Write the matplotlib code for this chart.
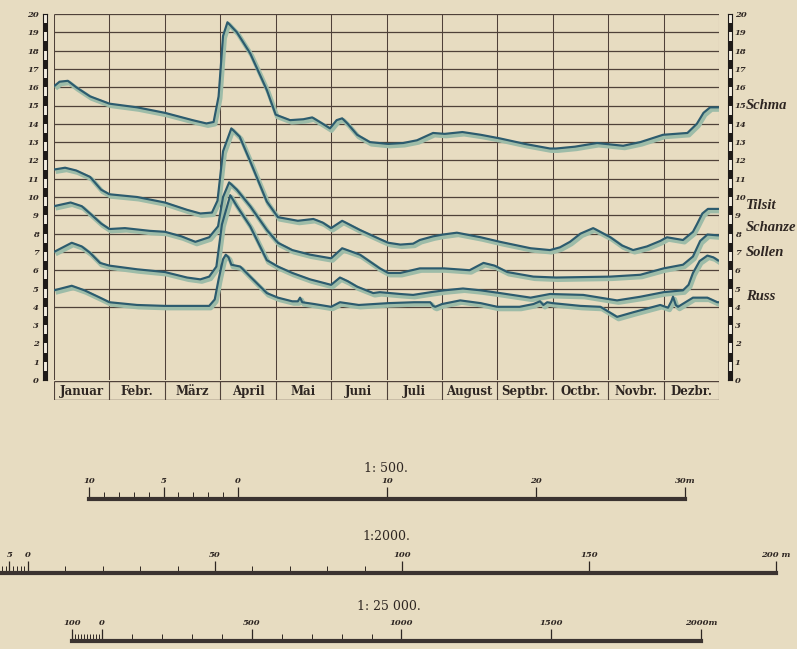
import numpy as np
import matplotlib
matplotlib.use('Agg')
import matplotlib.pyplot as plt
import matplotlib.transforms as mtransforms

# Wasserstände (m am Pegel) – Position in Monaten (0 = 1. Januar, 12 = 31. Dezember)
months = ['Januar', 'Febr.', 'März', 'April', 'Mai', 'Juni',
          'Juli', 'August', 'Septbr.', 'Octbr.', 'Novbr.', 'Dezbr.']

schm_m = [0.0, 0.1, 0.25, 0.4, 0.65, 1.0, 1.5, 2.0, 2.5, 2.75, 2.88, 2.97, 3.05, 3.13, 3.3,
          3.54, 3.84, 4.0, 4.26, 4.5, 4.66, 4.85, 4.98, 5.1, 5.2, 5.3, 5.47, 5.7, 6.03, 6.3,
          6.55, 6.84, 7.05, 7.37, 7.7, 8.05, 8.5, 8.95, 9.06, 9.4, 9.8, 10.27, 10.58, 10.99,
          11.43, 11.6, 11.72, 11.84, 12.0]
schm_v = [16.05, 16.3, 16.35, 16.0, 15.5, 15.1, 14.9, 14.6, 14.2, 14.02, 14.1, 15.5, 18.8,
          19.55, 19.0, 17.85, 15.85, 14.5, 14.2, 14.25, 14.35, 14.0, 13.75, 14.2, 14.3, 14.0,
          13.4, 13.0, 12.9, 12.95, 13.1, 13.5, 13.45, 13.55, 13.4, 13.2, 12.9, 12.65, 12.65,
          12.75, 12.95, 12.8, 13.0, 13.4, 13.5, 14.0, 14.6, 14.9, 14.9]

tils_m = [0.0, 0.2, 0.4, 0.65, 0.85, 1.0, 1.5, 2.0, 2.4, 2.64, 2.85, 2.95, 3.05, 3.2, 3.35,
          3.54, 3.84, 4.04, 4.4, 4.68, 4.85, 5.0, 5.2, 5.52, 5.88, 6.03, 6.25, 6.48, 6.6, 6.84,
          7.02, 7.27, 7.7, 8.05, 8.6, 8.95, 9.13, 9.31, 9.5, 9.73, 10.04, 10.25, 10.45, 10.7,
          10.94, 11.06, 11.35, 11.53, 11.6, 11.7, 11.8, 12.0]
tils_v = [11.5, 11.6, 11.45, 11.1, 10.4, 10.15, 10.0, 9.7, 9.3, 9.1, 9.15, 9.8, 12.5, 13.75,
          13.3, 11.95, 9.75, 8.9, 8.7, 8.8, 8.6, 8.3, 8.7, 8.2, 7.7, 7.5, 7.4, 7.45, 7.65, 7.85,
          7.95, 8.05, 7.8, 7.55, 7.2, 7.1, 7.25, 7.55, 8.0, 8.3, 7.8, 7.35, 7.1, 7.3, 7.6, 7.8,
          7.65, 8.1, 8.5, 9.1, 9.35, 9.35]

scha_m = [0.0, 0.3, 0.5, 0.65, 0.85, 1.0, 1.28, 1.73, 2.0, 2.3, 2.55, 2.8, 2.96, 3.05, 3.16,
          3.3, 3.54, 3.84, 4.04, 4.3, 4.62, 5.0, 5.2, 5.52, 5.88, 6.03, 6.25, 6.6, 7.04, 7.5,
          7.75, 7.95, 8.18, 8.65, 9.06, 10.04, 10.58, 11.0, 11.35, 11.53, 11.66, 11.79, 12.0]
scha_v = [9.5, 9.7, 9.5, 9.1, 8.55, 8.25, 8.3, 8.15, 8.1, 7.85, 7.55, 7.8, 8.4, 10.0, 10.8,
          10.4, 9.5, 8.2, 7.5, 7.1, 6.85, 6.65, 7.2, 6.85, 6.1, 5.85, 5.85, 6.1, 6.1, 6.0,
          6.4, 6.25, 5.9, 5.65, 5.6, 5.65, 5.75, 6.1, 6.3, 6.75, 7.6, 7.95, 7.9]

soll_m = [0.0, 0.32, 0.5, 0.65, 0.83, 1.0, 1.5, 2.0, 2.4, 2.64, 2.8, 2.93, 3.03, 3.18, 3.3,
          3.54, 3.84, 4.04, 4.3, 4.62, 5.0, 5.16, 5.3, 5.47, 5.76, 5.88, 6.25, 6.48, 6.8, 7.04,
          7.38, 7.7, 8.05, 8.6, 8.95, 9.55, 10.16, 10.58, 11.0, 11.35, 11.45, 11.53, 11.65,
          11.79, 11.9, 12.0]
soll_v = [7.0, 7.5, 7.3, 6.95, 6.4, 6.25, 6.05, 5.9, 5.6, 5.5, 5.65, 6.2, 8.5, 10.1, 9.5,
          8.4, 6.55, 6.2, 5.85, 5.5, 5.2, 5.6, 5.4, 5.1, 4.75, 4.8, 4.7, 4.65, 4.8, 4.9, 5.0,
          4.9, 4.75, 4.5, 4.7, 4.65, 4.35, 4.55, 4.8, 4.9, 5.2, 5.85, 6.5, 6.8, 6.7, 6.5]

russ_m = [0.0, 0.32, 0.55, 0.83, 1.0, 1.5, 2.0, 2.5, 2.8, 2.9, 2.97, 3.05, 3.1, 3.15, 3.2,
          3.36, 3.54, 3.84, 4.04, 4.3, 4.4, 4.44, 4.48, 4.7, 5.0, 5.16, 5.5, 6.03, 6.5, 6.79,
          6.84, 6.88, 7.0, 7.33, 7.7, 8.0, 8.4, 8.65, 8.77, 8.83, 8.9, 9.0, 9.5, 9.86, 10.16,
          10.45, 10.94, 11.08, 11.14, 11.17, 11.22, 11.26, 11.53, 11.79, 11.97, 12.0]
russ_v = [4.9, 5.15, 4.9, 4.5, 4.25, 4.1, 4.05, 4.05, 4.05, 4.4, 5.5, 6.6, 6.85, 6.7, 6.3,
          6.2, 5.65, 4.75, 4.5, 4.3, 4.3, 4.5, 4.25, 4.15, 4.0, 4.25, 4.1, 4.2, 4.25, 4.25,
          4.05, 4.0, 4.15, 4.35, 4.2, 4.0, 4.0, 4.15, 4.3, 4.1, 4.25, 4.2, 4.05, 4.0, 3.45,
          3.7, 4.1, 3.95, 4.3, 4.55, 4.1, 4.0, 4.5, 4.5, 4.25, 4.25]

# Pegelnamen, so weit sie auf dem Blatt stehen
stations = ['Schma', 'Tilsit', 'Schanze', 'Sollen', 'Russ']
station_label_y = [15.0, 9.55, 8.35, 6.95, 4.55]

# Maßstäbe
scales = ['1: 500.', '1:2000.', '1: 25 000.']
sc1_major = [-10, -5, 0, 10, 20, 30]
sc1_labels = ['10', '5', '0', '10', '20', '30m']
sc1_minor = list(range(-10, 1))
sc2_major = [-5, 0, 50, 100, 150, 200]
sc2_labels = ['5', '0', '50', '100', '150', '200 m']
sc2_minor = list(range(-10, 1)) + list(range(10, 100, 10))
sc3_major = [-100, 0, 500, 1000, 1500, 2000]
sc3_labels = ['100', '0', '500', '1000', '1500', '2000m']
sc3_minor = list(range(-100, 1, 10)) + list(range(100, 1000, 100))

PAPER = '#e7dcc1'
INK = '#2e2622'
GRID = '#4f4139'
LINE = '#2c5b6e'
SHADE = '#9dbca8'

W, H = 797, 649
fig = plt.figure(figsize=(W / 100, H / 100), dpi=100)
fig.patch.set_facecolor(PAPER)


def fbox(x0, y0, x1, y1):
    # Pixelrahmen (oben links) -> Figurkoordinaten
    return [x0 / W, 1 - y1 / H, (x1 - x0) / W, (y1 - y0) / H]


num_font = dict(family='DejaVu Serif', style='italic', weight='bold', size=6, color=INK)

# Hauptdiagramm
ax = fig.add_axes(fbox(54, 14, 719, 380))
ax.set_xlim(0, 12)
ax.set_ylim(0, 20)
ax.axis('off')
ax.hlines(range(4, 21), 0, 12, color=GRID, lw=0.9, zorder=1)
ax.vlines(range(0, 13), 0, 20, color=GRID, lw=0.75, zorder=1)

shade_tr = mtransforms.offset_copy(ax.transData, fig=fig, x=1.6, y=-2.2, units='dots')
for m, v in [(schm_m, schm_v), (tils_m, tils_v), (scha_m, scha_v),
             (soll_m, soll_v), (russ_m, russ_v)]:
    ax.plot(m, v, color=SHADE, lw=3.3, transform=shade_tr, solid_joinstyle='round',
            solid_capstyle='butt', zorder=2)
    ax.plot(m, v, color=LINE, lw=1.55, solid_joinstyle='round', solid_capstyle='butt',
            zorder=3)

# Monatsleiste
band = fig.add_axes(fbox(54, 381, 719, 400))
band.set_xlim(0, 12)
band.set_ylim(0, 1)
band.axis('off')
band.hlines([0, 1], 0, 12, color=GRID, lw=1.0)
band.vlines(range(0, 13), 0, 1, color=GRID, lw=0.8)
for i, name in enumerate(months):
    band.text(i + 0.5, 0.45, name, ha='center', va='center', family='DejaVu Serif',
              weight='bold', size=8.5, color=INK)

# Pegellatten links und rechts
for side, x0 in [('left', 43), ('right', 728)]:
    g = fig.add_axes(fbox(x0, 14, x0 + 4, 380))
    g.set_xlim(0, 1)
    g.set_ylim(0, 20)
    g.patch.set_facecolor('#f3ede0')
    g.bar(0.5, 0.5, width=1.0, bottom=np.arange(0, 20), color='#1e1a18', zorder=2)
    for s in g.spines.values():
        s.set_color('#1e1a18')
        s.set_linewidth(0.8)
    g.set_xticks([])
    g.set_yticks(range(0, 21))
    g.set_yticklabels([str(k) for k in range(0, 21)], fontdict=num_font)
    if side == 'right':
        g.yaxis.tick_right()
        g.tick_params(axis='y', length=0, pad=2)
        for name, yv in zip(stations, station_label_y):
            g.text(4.4, yv, name, transform=g.get_yaxis_transform(), ha='left',
                   va='center', family='Liberation Serif', style='italic', weight='bold',
                   size=10.5, color=INK, clip_on=False)
    else:
        g.tick_params(axis='y', length=0, pad=3)


# Maßstabsleisten
def scale_bar(x0, x1, ybar, lo, hi, major, labels, minor, title, ytitle, xtitle):
    s = fig.add_axes(fbox(x0, ybar - 11, x1, ybar))
    s.set_xlim(lo, hi)
    s.set_ylim(0, 1)
    s.patch.set_alpha(0)
    for k in ['left', 'right', 'top']:
        s.spines[k].set_visible(False)
    s.spines['bottom'].set_linewidth(3.0)
    s.spines['bottom'].set_color('#3b3330')
    s.set_yticks([])
    s.set_xticks(major)
    s.set_xticklabels(labels, fontdict=num_font)
    s.set_xticks(minor, minor=True)
    s.tick_params(axis='x', which='major', direction='in', length=9, width=0.9,
                  color=INK, top=False, labelbottom=False, labeltop=True, pad=2)
    s.tick_params(axis='x', which='minor', direction='in', length=5, width=0.7,
                  color=INK, top=False)
    fig.text(xtitle / W, 1 - ytitle / H, title, ha='center', va='center',
             family='DejaVu Serif', size=9, color=INK)


scale_bar(89, 685, 499, -10, 30, sc1_major, sc1_labels, sc1_minor, scales[0], 468, 386)
scale_bar(-9.4, 776, 573, -10, 200, sc2_major, sc2_labels, sc2_minor, scales[1], 537, 386)
scale_bar(72, 701, 641, -100, 2000, sc3_major, sc3_labels, sc3_minor, scales[2], 607, 389)

fig.savefig('out.png', dpi=100, facecolor=PAPER)
